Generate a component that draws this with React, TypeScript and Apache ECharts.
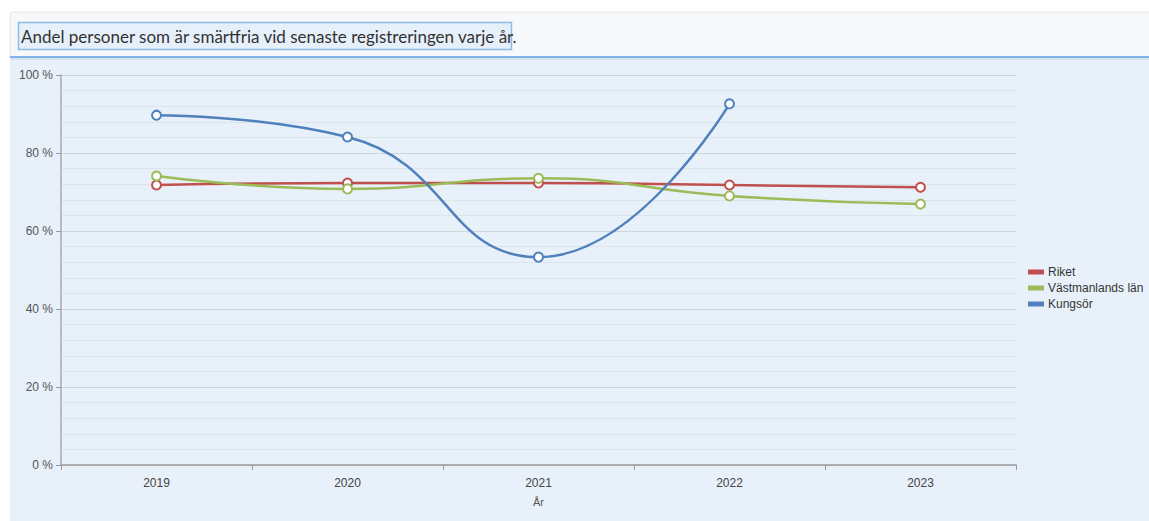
import React, { useEffect, useRef } from "react";
import * as echarts from "echarts";

const years = ["2019", "2020", "2021", "2022", "2023"];
const riket = [71.8, 72.3, 72.3, 71.8, 71.2];
const vastmanland = [74.1, 70.8, 73.5, 69.0, 66.9];
const kungsor: (number | null)[] = [89.7, 84.1, 53.3, 92.6, null];
const seriesNames = ["Riket", "Västmanlands län", "Kungsör"];
const colors = ["#c0504d", "#9bbb59", "#4f81bd"];
const titleText = "Andel personer som är smärtfria vid senaste registreringen varje år.";
const xAxisName = "År";

export default function App() {
  const ref = useRef<HTMLDivElement>(null);
  useEffect(() => {
    if (!ref.current) return;
    const chart = echarts.init(ref.current, undefined, { renderer: "svg" });
    const bg = "#e8f1fa";
    const mk = (name: string, data: (number | null)[], color: string) => ({
      name,
      type: "line",
      data,
      smooth: true,
      symbol: "emptyCircle",
      symbolSize: 9,
      lineStyle: { width: 2.5, color },
      itemStyle: { color, borderWidth: 2, borderColor: color },
      emphasis: { disabled: true },
    });
    chart.setOption({
      animation: false,
      backgroundColor: "#ffffff",
      textStyle: { fontFamily: "'Liberation Sans', Arial, sans-serif" },
      graphic: [
        {
          type: "rect",
          z: -10,
          shape: { x: 10, y: 12, width: 1145, height: 46, r: [4, 0, 0, 0] },
          style: { fill: "#f7f8fa", stroke: "#e2e4e8", lineWidth: 1 },
          silent: true,
        },
        {
          type: "rect",
          z: -10,
          shape: { x: 10, y: 58, width: 1145, height: 470 },
          style: { fill: bg },
          silent: true,
        },
        {
          type: "rect",
          z: -9,
          shape: { x: 10, y: 56, width: 1145, height: 2 },
          style: { fill: "#80b4e8" },
          silent: true,
        },
        {
          type: "rect",
          z: -9,
          shape: { x: 10, y: 58, width: 1145, height: 2 },
          style: { fill: "#d8e2ec" },
          silent: true,
        },
        {
          type: "rect",
          z: -8,
          shape: { x: 18.5, y: 22.5, width: 493, height: 27 },
          style: { fill: "#e6f0fa", stroke: "#8bbbe8", lineWidth: 1.5 },
          silent: true,
        },
        {
          type: "text",
          z: -7,
          x: 21,
          y: 36,
          style: {
            text: titleText,
            fill: "#333333",
            fontSize: 17,
            fontFamily: "Lato, 'Noto Sans', sans-serif",
            verticalAlign: "middle",
          },
          silent: true,
        },
      ],
      grid: { left: 61, right: 133, top: 75, bottom: 56, containLabel: false },
      legend: {
        orient: "vertical",
        left: 1023,
        top: 261,
        icon: "rect",
        itemWidth: 14,
        itemHeight: 3,
        itemGap: 4,
        data: seriesNames,
        textStyle: { fontSize: 12, color: "#333333" },
      },
      xAxis: {
        type: "category",
        data: years,
        boundaryGap: true,
        name: xAxisName,
        nameLocation: "middle",
        nameGap: 31,
        nameTextStyle: { fontSize: 11, color: "#555555" },
        axisLine: { lineStyle: { color: "#999999", width: 1.5 } },
        axisTick: { show: true, length: 5, lineStyle: { color: "#999999" } },
        axisLabel: { fontSize: 12, color: "#444444", margin: 12 },
        splitLine: { show: false },
      },
      yAxis: {
        type: "value",
        min: 0,
        max: 100,
        interval: 20,
        axisLine: { show: true, lineStyle: { color: "#aaaaaa", width: 1.5 } },
        axisTick: { show: true, length: 5, lineStyle: { color: "#999999" } },
        axisLabel: { formatter: "{value} %", fontSize: 12, color: "#555555", margin: 8 },
        splitLine: { show: true, lineStyle: { color: "#cdd6df", width: 1 } },
        minorTick: { show: false, splitNumber: 5 },
        minorSplitLine: { show: true, lineStyle: { color: "#dbe3eb", width: 1 } },
      },
      series: [
        mk(seriesNames[0], riket, colors[0]),
        mk(seriesNames[1], vastmanland, colors[1]),
        mk(seriesNames[2], kungsor, colors[2]),
      ],
    });
    return () => chart.dispose();
  }, []);
  return (
    <div
      ref={ref}
      style={{ position: "fixed", left: 0, top: 0, width: 1149, height: 521 }}
    />
  );
}
